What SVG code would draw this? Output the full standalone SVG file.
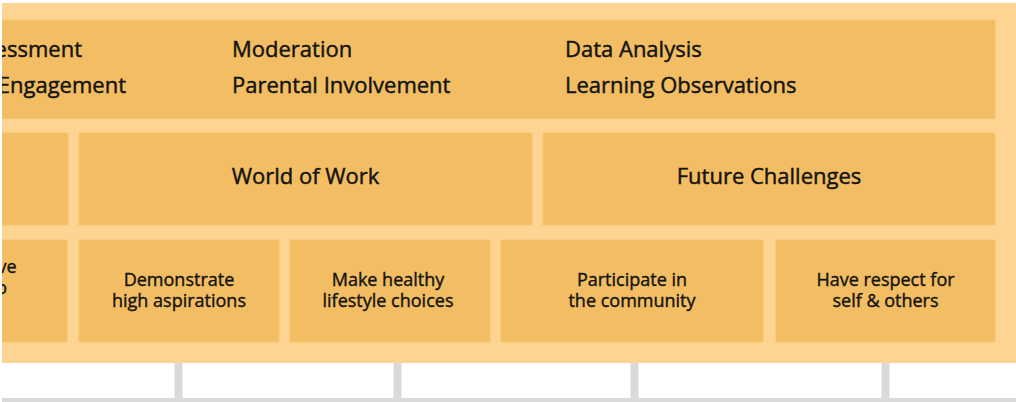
<svg xmlns="http://www.w3.org/2000/svg" width="1016" height="402" viewBox="0 0 1016 402">
  <defs>
    <clipPath id="clip"><rect x="2" y="0" width="1014" height="402"/></clipPath>
    <style>
      .bg { fill: #FDD492; }
      .box { fill: #F3BE63; stroke: #F5C46C; stroke-width: 1; }
      .conn { fill: #DADADA; }
      text { font-family: "Open Sans", "Liberation Sans", sans-serif; fill: #141414; stroke: #141414; stroke-width: 0.45; font-weight: 400; }
      .t1 { font-size: 22px; }
      .t2 { font-size: 22px; text-anchor: middle; }
      .t3 { font-size: 18px; text-anchor: middle; stroke-width: 0.4; }
      .t3e { font-size: 18px; text-anchor: end; stroke-width: 0.4; }
    </style>
  </defs>
  <rect width="1016" height="402" fill="#FFFFFF"/>
  <g clip-path="url(#clip)">
    <g id="connectors">
      <rect class="conn" x="0" y="398" width="1016" height="4"/>
      <rect class="conn" x="174.5" y="340" width="8" height="60"/>
      <rect class="conn" x="393.5" y="340" width="8" height="60"/>
      <rect class="conn" x="630.5" y="340" width="8" height="60"/>
      <rect class="conn" x="881.5" y="340" width="8" height="60"/>
    </g>
    <rect class="bg" x="0" y="3" width="1016" height="360"/>
    <g id="top-box">
      <rect class="box" x="-10" y="20" width="1005" height="98.5"/>
      <text class="t1" x="82" y="57" text-anchor="end">essment</text>
      <text class="t1" x="126" y="93" text-anchor="end">Engagement</text>
      <text class="t1" x="232" y="57">Moderation</text>
      <text class="t1" x="232" y="93">Parental Involvement</text>
      <text class="t1" x="565" y="57">Data Analysis</text>
      <text class="t1" x="565" y="93">Learning Observations</text>
    </g>
    <g id="mid-left"><rect class="box" x="-10" y="133" width="78" height="92"/></g>
    <g id="world-of-work">
      <rect class="box" x="79" y="133" width="453" height="92"/>
      <text class="t2" x="305.5" y="183.5">World of Work</text>
    </g>
    <g id="future-challenges">
      <rect class="box" x="543" y="133" width="452" height="92"/>
      <text class="t2" x="769" y="183.5">Future Challenges</text>
    </g>
    <g id="bottom-left">
      <rect class="box" x="-10" y="240" width="77" height="102"/>
      <text class="t3e" x="16.5" y="273">ve</text>
      <text class="t3e" x="7" y="294">o</text>
    </g>
    <g id="demonstrate">
      <rect class="box" x="79" y="240" width="200" height="102"/>
      <text class="t3" x="179" y="286">Demonstrate</text>
      <text class="t3" x="179" y="307">high aspirations</text>
    </g>
    <g id="healthy">
      <rect class="box" x="290" y="240" width="200" height="102"/>
      <text class="t3" x="388" y="286">Make healthy</text>
      <text class="t3" x="388" y="307">lifestyle choices</text>
    </g>
    <g id="participate">
      <rect class="box" x="501" y="240" width="262" height="102"/>
      <text class="t3" x="632" y="286">Participate in</text>
      <text class="t3" x="632" y="307">the community</text>
    </g>
    <g id="respect">
      <rect class="box" x="776" y="240" width="219" height="102"/>
      <text class="t3" x="885.5" y="286">Have respect for</text>
      <text class="t3" x="885.5" y="307">self &amp; others</text>
    </g>
  </g>
</svg>
